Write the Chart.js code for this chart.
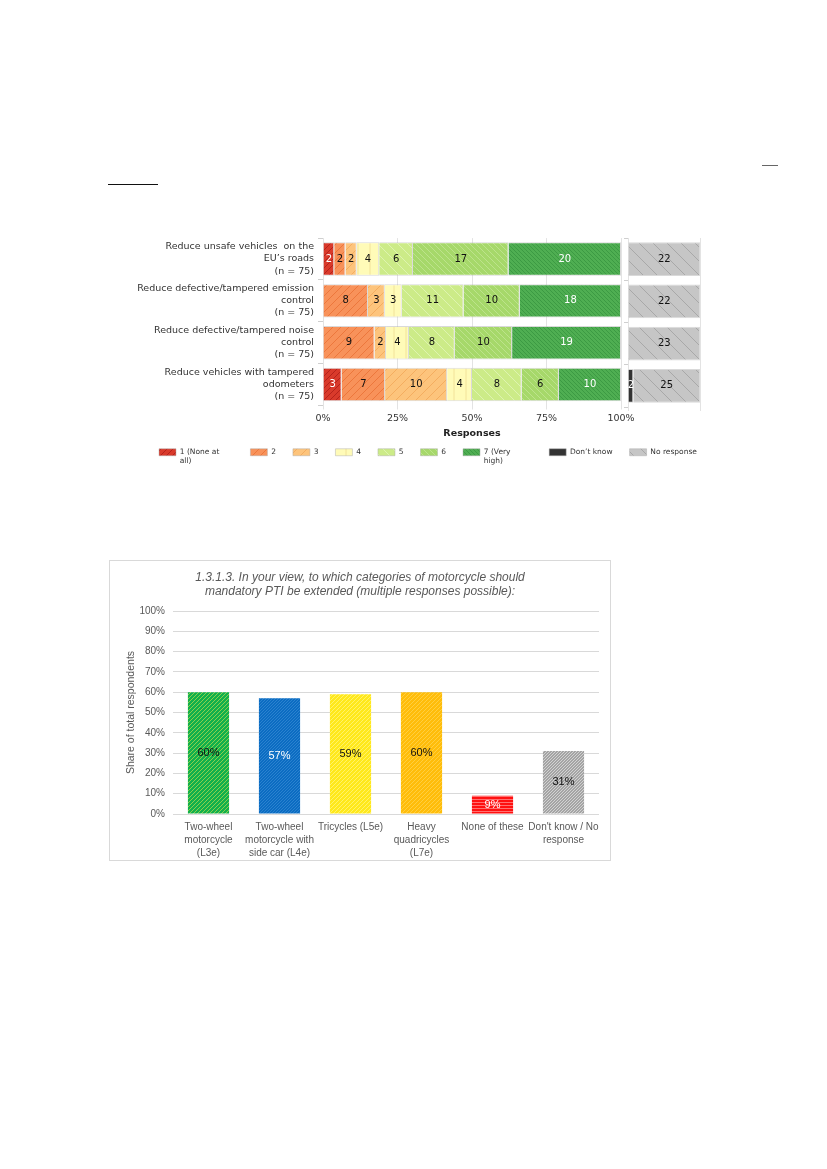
<!DOCTYPE html>
<html>
<head>
<meta charset="utf-8">
<script src="https://cdn.jsdelivr.net/npm/chart.js@4.4.1/dist/chart.umd.min.js"></script>
<style>
    body { margin: 0; background: #fff; }
    #page { position: relative; width: 827px; height: 1169px; overflow: hidden; background: #fff; }
    .box { position: absolute; }
</style>
</head>
<body>
<div id="page">
    <div class="box" style="left:762px;top:165px;width:16px;height:1px;background:#666"></div>
    <div class="box" style="left:108px;top:184px;width:50px;height:1px;background:#111"></div>
    <div class="box" style="left:100px;top:216px;width:656px;height:250px"><canvas id="impact"></canvas></div>
    <div class="box" style="left:624px;top:228px;width:86px;height:183px"><canvas id="impactNR"></canvas></div>
    <div class="box" style="left:110px;top:561px;width:500px;height:299px;box-shadow:0 0 0 1px #d9d9d9"><canvas id="pti"></canvas></div>
</div>
<script>
// ---- chart 1 : expected impact, counts per score ----
const impactRows = [
    ["Reduce unsafe vehicles  on the", "EU\u2019s roads", "(n = 75)"],
    ["Reduce defective/tampered emission", "control", "(n = 75)"],
    ["Reduce defective/tampered noise", "control", "(n = 75)"],
    ["Reduce vehicles with tampered", "odometers", "(n = 75)"]
];
const scoreNames = [["1 (None at", "all)"], "2", "3", "4", "5", "6", ["7 (Very", "high)"]];
const scoreCounts = [
    [2, 0, 0, 3],
    [2, 8, 9, 7],
    [2, 3, 2, 10],
    [4, 3, 4, 4],
    [6, 11, 8, 8],
    [17, 10, 10, 6],
    [20, 18, 19, 10]
];
const dontKnow = [0, 0, 0, 2];
const noResponse = [22, 22, 23, 25];
const pctTicks = [0, 25, 50, 75, 100];

// ---- chart 2 : PTI extension ----
const ptiTitle = ["1.3.1.3. In your view, to which categories of motorcycle should",
                  "mandatory PTI be extended (multiple responses possible):"];
const ptiCategories = [
    ["Two-wheel", "motorcycle", "(L3e)"],
    ["Two-wheel", "motorcycle with", "side car (L4e)"],
    "Tricycles (L5e)",
    ["Heavy", "quadricycles", "(L7e)"],
    "None of these",
    ["Don't know / No", "response"]
];
const ptiShares = [60, 57, 59, 60, 9, 31];

function hatch(bg, line, step, dir, width)
{
    let c = document.createElement("canvas");
    c.width = step; c.height = step;
    let g = c.getContext("2d");
    g.fillStyle = bg;
    g.fillRect(0, 0, step, step);
    if (dir) {
        g.strokeStyle = line;
        g.lineWidth = width || 1;
        g.beginPath();
        if (dir === "/") {
            g.moveTo(0, step); g.lineTo(step, 0);
            g.moveTo(-2, 2); g.lineTo(2, -2);
            g.moveTo(step - 2, step + 2); g.lineTo(step + 2, step - 2);
        } else if (dir === "\\") {
            g.moveTo(0, 0); g.lineTo(step, step);
            g.moveTo(step - 2, -2); g.lineTo(step + 2, 2);
            g.moveTo(-2, step - 2); g.lineTo(2, step + 2);
        } else if (dir === "|") {
            g.moveTo(step / 2, 0); g.lineTo(step / 2, step);
        } else if (dir === "-") {
            g.moveTo(0, step / 2); g.lineTo(step, step / 2);
        }
        g.stroke();
    }
    return g.createPattern(c, "repeat");
}

const valueLabels = {
    id: "valueLabels",
    afterDatasetsDraw(chart) {
        let ctx = chart.ctx;
        let horizontal = chart.options.indexAxis === "y";
        chart.data.datasets.forEach((ds, i) => {
            if (!ds.valueText) return;
            chart.getDatasetMeta(i).data.forEach((bar, j) => {
                let text = ds.valueText[j];
                if (text === null) return;
                let p = bar.getProps(["x", "y", "base"], true);
                let x = horizontal ? (p.x + p.base) / 2 : p.x;
                let y = horizontal ? p.y : (p.y + p.base) / 2;
                ctx.save();
                ctx.font = ds.valueFont;
                ctx.fillStyle = Array.isArray(ds.valueColor) ? ds.valueColor[j] : ds.valueColor;
                ctx.textAlign = "center";
                ctx.textBaseline = "middle";
                ctx.fillText(text, x, y);
                ctx.restore();
            });
        });
    }
};

const scoreFills = [
    hatch("#d93a2b", "#b5221b", 6, "/"),
    hatch("#f8925a", "#ec773c", 8, "/"),
    hatch("#fdc47c", "#f4ad60", 10, "/"),
    hatch("#fffbb8", "#f2e29a", 12, "|"),
    hatch("#cceb88", "#def3b0", 10, "\\"),
    hatch("#a6d86a", "#bde38c", 6, "\\"),
    hatch("#4fae52", "#3c9a43", 4, "\\")
];
const scoreTextColor = ["#fff", "#111", "#111", "#111", "#111", "#111", "#fff"];
const dkFill = "#333333";
const nrFill = hatch("#c6c6c6", "#a8a8a8", 14, "\\");

const font1 = "DejaVu Sans";
const rowTotals = impactRows.map((r, j) => scoreCounts.reduce((s, c) => s + c[j], 0));
const sideTotals = impactRows.map((r, j) => dontKnow[j] + noResponse[j]);

function countText(arr)
{
    return arr.map(v => v > 0 ? String(v) : null);
}

let impactSets = scoreCounts.map((counts, k) => ({
    label: scoreNames[k],
    data: counts.map((v, j) => v / rowTotals[j] * 100),
    backgroundColor: scoreFills[k],
    borderColor: "rgba(170,170,170,0.45)",
    borderWidth: 1,
    xAxisID: "x", yAxisID: "y",
    valueText: countText(counts),
    valueColor: scoreTextColor[k],
    valueFont: "10px '" + font1 + "'"
}));
impactSets.push({ label: "Don\u2019t know", data: impactRows.map(() => null), backgroundColor: dkFill,
                  borderColor: "rgba(170,170,170,0.45)", borderWidth: 1, xAxisID: "x", yAxisID: "y" });
impactSets.push({ label: "No response", data: impactRows.map(() => null), backgroundColor: nrFill,
                  borderColor: "rgba(170,170,170,0.45)", borderWidth: 1, xAxisID: "x", yAxisID: "y" });

new Chart(document.getElementById("impact"), {
    type: "bar",
    data: { labels: impactRows, datasets: impactSets },
    options: {
        indexAxis: "y",
        responsive: true,
        maintainAspectRatio: false,
        animation: false,
        layout: { padding: { top: 10, bottom: 0 } },
        datasets: { bar: { categoryPercentage: 0.8, barPercentage: 1 } },
        scales: {
            x: {
                stacked: true, min: 0, max: 100,
                afterBuildTicks: s => { s.ticks = pctTicks.map(v => ({ value: v })); },
                ticks: { callback: v => v + "%", font: { family: font1, size: 9.5 }, color: "#333", padding: 3 },
                grid: { color: "#e3e3e3", tickLength: 4 },
                border: { display: false },
                title: { display: true, text: "Responses", color: "#222",
                         font: { family: font1, size: 9.5, weight: "bold" }, padding: { top: 3, bottom: -8 } },
                afterFit: s => { s.height = 26; }
            },
            y: {
                stacked: true,
                ticks: { font: { family: font1, size: 9.5, lineHeight: 1.27 }, color: "#333", padding: 4 },
                grid: { drawOnChartArea: false, tickLength: 5, color: "#cfcfcf" },
                border: { display: false },
                afterFit: s => { s.width = 223; }
            },
            pad: {
                type: "linear", position: "right", display: true,
                ticks: { display: false }, grid: { display: false }, border: { display: false },
                afterFit: s => { s.width = 135; }
            }
        },
        plugins: {
            legend: {
                position: "bottom",
                labels: { boxWidth: 17, boxHeight: 7, padding: 17, color: "#333",
                          font: { family: font1, size: 7.5 } }
            },
            tooltip: { enabled: false }
        }
    },
    plugins: [valueLabels]
});

new Chart(document.getElementById("impactNR"), {
    type: "bar",
    data: {
        labels: impactRows,
        datasets: [
            { label: "Don\u2019t know", data: dontKnow.map((v, j) => v / sideTotals[j] * 100),
              backgroundColor: dkFill, borderColor: "rgba(170,170,170,0.45)", borderWidth: 1,
              valueText: countText(dontKnow), valueColor: "#fff", valueFont: "10px '" + font1 + "'" },
            { label: "No response", data: noResponse.map((v, j) => v / sideTotals[j] * 100),
              backgroundColor: nrFill, borderColor: "rgba(170,170,170,0.45)", borderWidth: 1,
              valueText: countText(noResponse), valueColor: "#111", valueFont: "10px '" + font1 + "'" }
        ]
    },
    options: {
        indexAxis: "y",
        responsive: true,
        maintainAspectRatio: false,
        animation: false,
        layout: { padding: { top: 10, right: 10 } },
        datasets: { bar: { categoryPercentage: 0.8, barPercentage: 1 } },
        scales: {
            x: {
                stacked: true, min: 0, max: 100,
                afterBuildTicks: s => { s.ticks = [{ value: 0 }, { value: 100 }]; },
                ticks: { display: false },
                grid: { color: "#e3e3e3", tickLength: 4 },
                border: { display: false },
                afterFit: s => { s.height = 4; }
            },
            y: {
                stacked: true,
                ticks: { display: false },
                grid: { drawOnChartArea: false, tickLength: 4, color: "#cfcfcf" },
                border: { display: false },
                afterFit: s => { s.width = 4; }
            }
        },
        plugins: { legend: { display: false }, tooltip: { enabled: false } }
    },
    plugins: [valueLabels]
});

// ---- chart 2 ----
const font2 = "Liberation Sans";
const ptiFills = [
    hatch("#12b04c", "#8ccf4c", 4, "/"),
    hatch("#0b6cc2", "#2a82cf", 3, "/"),
    hatch("#ffe81c", "#fff36a", 4, "/"),
    hatch("#ffbd0a", "#ffcf40", 4, "/"),
    hatch("#ff1010", "#ff7070", 3, "-"),
    hatch("#a4a4a4", "#d2d2d2", 3, "/")
];

new Chart(document.getElementById("pti"), {
    type: "bar",
    data: {
        labels: ptiCategories,
        datasets: [{
            data: ptiShares,
            backgroundColor: ptiFills,
            borderWidth: 0,
            valueText: ptiShares.map(v => v + "%"),
            valueColor: ["#111", "#fff", "#111", "#111", "#fff", "#111"],
            valueFont: "11px '" + font2 + "'"
        }]
    },
    options: {
        responsive: true,
        maintainAspectRatio: false,
        animation: false,
        layout: { padding: { left: 11, right: 11, top: 0, bottom: 0 } },
        datasets: { bar: { categoryPercentage: 1, barPercentage: 0.58 } },
        scales: {
            x: {
                grid: { display: false, drawTicks: false },
                border: { display: false },
                ticks: { font: { family: font2, size: 10, lineHeight: 1.3 }, color: "#595959",
                         maxRotation: 0, autoSkip: false, padding: 7 },
                afterFit: s => { s.height = 46; }
            },
            y: {
                min: 0, max: 100,
                ticks: { stepSize: 10, callback: v => v + "%", font: { family: font2, size: 10 },
                         color: "#595959", padding: 8 },
                grid: { color: "#d9d9d9", drawTicks: false },
                border: { display: false },
                title: { display: true, text: "Share of total respondents", color: "#595959",
                         font: { family: font2, size: 10.5 }, padding: { top: 4, bottom: 0 } },
                afterFit: s => { s.width = 52; }
            }
        },
        plugins: {
            legend: { display: false },
            tooltip: { enabled: false },
            title: {
                display: true, text: ptiTitle, color: "#595959",
                font: { family: font2, size: 12, style: "italic", weight: "normal", lineHeight: 1.17 },
                padding: { top: 10, bottom: 12 }
            }
        }
    },
    plugins: [valueLabels]
});
</script>
</body>
</html>
